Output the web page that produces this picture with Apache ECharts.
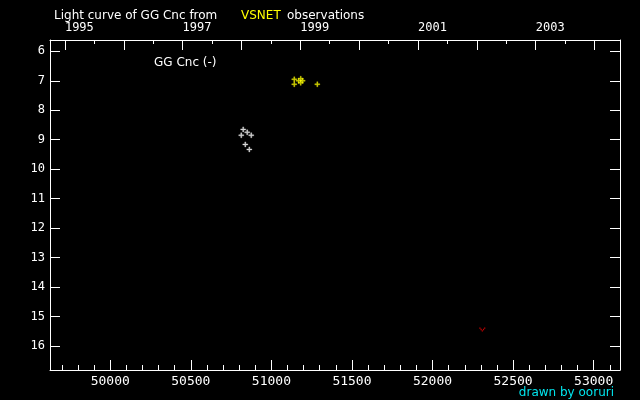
<!DOCTYPE html>
<html>
<head>
<meta charset="utf-8">
<script src="https://cdn.jsdelivr.net/npm/echarts@6/dist/echarts.min.js"></script>
<style>
  html, body { margin: 0; padding: 0; background: #000; }
  #myChart { width: 640px; height: 400px; }
</style>
</head>
<body>
<div id="myChart"></div>
<script>
// JD - 2400000, magnitude
var whitePoints = [
  [50825, 8.65], [50850, 8.75], [50813, 8.85],
  [50875, 8.85], [50838, 9.16], [50863, 9.33]
]
var vsnetPoints = [
  [51142, 6.95], [51142, 7.12],
  [51169, 7.00], [51194, 7.00], [51182, 6.93], [51182, 7.07],
  [51285, 7.12]
]
var fainterPoints = [
  [52309, 15.44]
]

var dayTicks = [50000, 50500, 51000, 51500, 52000, 52500, 53000]
var dayMinorTicks = [49700, 49800, 49900, 50100, 50200, 50300, 50400, 50600, 50700, 50800, 50900,
  51100, 51200, 51300, 51400, 51600, 51700, 51800, 51900, 52100, 52200, 52300, 52400,
  52600, 52700, 52800, 52900, 53100]
var magTicks = [6, 7, 8, 9, 10, 11, 12, 13, 14, 15, 16]
var yearTicks = [1995, 1996, 1997, 1998, 1999, 2000, 2001, 2002, 2003, 2004]
var yearLabels = [1995, 1997, 1999, 2001, 2003]

var xMin = 49626
var xMax = 53163.5
var yMin = 5.617
var yMax = 16.815

// year -> JD-2400000 (1995 Jan 1 = 49718.5)
function yearToDay (y) {
  return 49718.5 + (y - 1995) * 365.25
}
var yearDays = yearTicks.map(yearToDay)
var halfYearDays = yearTicks.map(function (y) { return yearToDay(y - 0.5) })
var yearLabelDays = yearLabels.map(yearToDay)

var plus = 'path://M2,0h1v2h2v1h-2v2h-1v-2h-2v-1h2z'
var vee = 'path://M0,0h1v1h1v1h1v-1h1v-1h1v1h-1v1h-1v1h-1v-1h-1v-1h-1z'

var white = '#ffffff'
var mono = 'DejaVu Sans Mono'
var sans = 'DejaVu Sans'

var myChart = echarts.init(document.getElementById('myChart'))
myChart.setOption({
  backgroundColor: '#000',
  animation: false,
  title: [
    {
      text: 'Light curve of GG Cnc from',
      left: 49,
      top: 5,
      textStyle: { color: white, fontSize: 12, fontWeight: 'normal', fontFamily: sans }
    },
    {
      text: 'VSNET',
      left: 236,
      top: 5,
      textStyle: { color: '#ffff00', fontSize: 12, fontWeight: 'normal', fontFamily: sans }
    },
    {
      text: 'observations',
      left: 282,
      top: 5,
      textStyle: { color: white, fontSize: 12, fontWeight: 'normal', fontFamily: sans }
    },
    {
      text: 'GG Cnc (-)',
      left: 149,
      top: 52,
      textStyle: { color: white, fontSize: 12, fontWeight: 'normal', fontFamily: sans }
    },
    {
      text: 'drawn by ooruri',
      right: 21,
      top: 382,
      textStyle: { color: '#00e5ee', fontSize: 12, fontWeight: 'normal', fontFamily: sans }
    }
  ],
  grid: {
    left: 50,
    right: 20,
    top: 40,
    bottom: 30
  },
  xAxis: [
    {
      type: 'value',
      position: 'bottom',
      min: xMin,
      max: xMax,
      splitLine: { show: false },
      axisLine: { lineStyle: { color: white, width: 1 } },
      axisTick: { inside: true, length: 10, customValues: dayTicks, lineStyle: { color: white } },
      axisLabel: {
        customValues: dayTicks,
        color: white,
        fontFamily: mono,
        fontSize: 13,
        margin: 5,
        formatter: function (v) { return String(v) }
      }
    },
    {
      type: 'value',
      position: 'bottom',
      min: xMin,
      max: xMax,
      splitLine: { show: false },
      axisLine: { show: false },
      axisTick: { inside: true, length: 5, customValues: dayMinorTicks, lineStyle: { color: white } },
      axisLabel: { show: false }
    },
    {
      type: 'value',
      position: 'top',
      min: xMin,
      max: xMax,
      splitLine: { show: false },
      axisLine: { lineStyle: { color: white, width: 1 } },
      axisTick: { inside: true, length: 10, customValues: yearDays, lineStyle: { color: white } },
      axisLabel: {
        customValues: yearLabelDays,
        color: white,
        fontFamily: mono,
        fontSize: 12,
        align: 'left',
        margin: 6,
        formatter: function (v) {
          return String(Math.round((v - 49718.5) / 365.25 + 1995))
        }
      }
    },
    {
      type: 'value',
      position: 'top',
      min: xMin,
      max: xMax,
      splitLine: { show: false },
      axisLine: { show: false },
      axisTick: { inside: true, length: 4, customValues: halfYearDays, lineStyle: { color: white } },
      axisLabel: { show: false }
    }
  ],
  yAxis: [
    {
      type: 'value',
      position: 'left',
      inverse: true,
      min: yMin,
      max: yMax,
      splitLine: { show: false },
      axisLine: { lineStyle: { color: white, width: 1 } },
      axisTick: { inside: true, length: 10, customValues: magTicks, lineStyle: { color: white } },
      axisLabel: { customValues: magTicks, color: white, fontFamily: mono, fontSize: 12, margin: 5 }
    },
    {
      type: 'value',
      position: 'right',
      inverse: true,
      min: yMin,
      max: yMax,
      splitLine: { show: false },
      axisLine: { lineStyle: { color: white, width: 1 } },
      axisTick: { inside: true, length: 10, customValues: magTicks, lineStyle: { color: white } },
      axisLabel: { show: false }
    }
  ],
  series: [
    {
      name: 'GG Cnc',
      type: 'scatter',
      symbol: plus,
      symbolSize: 5,
      itemStyle: { color: white, borderColor: white, borderWidth: 0.4 },
      data: whitePoints
    },
    {
      name: 'VSNET',
      type: 'scatter',
      symbol: plus,
      symbolSize: 5,
      itemStyle: { color: '#ffff00', borderColor: '#ffff00', borderWidth: 0.4 },
      data: vsnetPoints
    },
    {
      name: 'fainter than',
      type: 'scatter',
      symbol: vee,
      symbolSize: [6, 4],
      itemStyle: { color: '#ff0000' },
      data: fainterPoints
    }
  ]
})
</script>
</body>
</html>
